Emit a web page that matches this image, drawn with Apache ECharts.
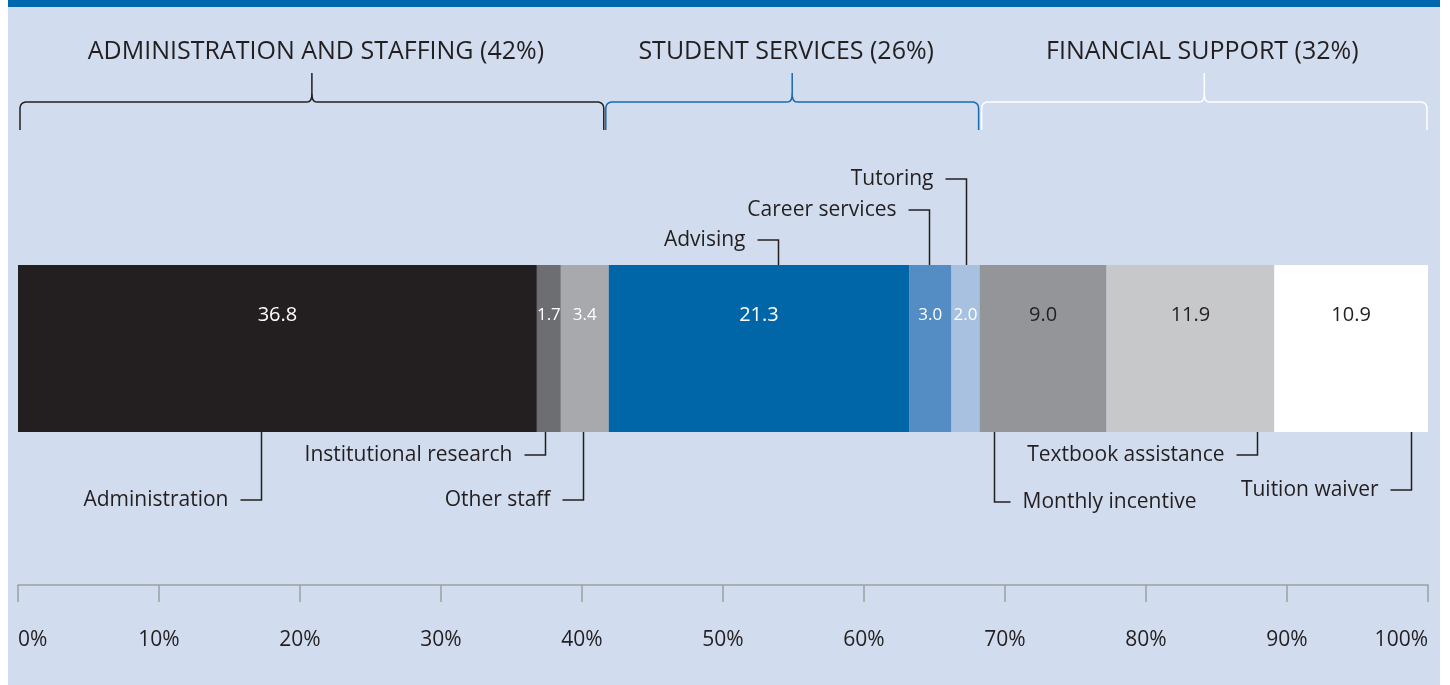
<!DOCTYPE html>
<html><head><meta charset="utf-8">
<script src="https://cdn.jsdelivr.net/npm/echarts@6/dist/echarts.min.js"></script>
<style>
html,body{margin:0;padding:0;background:#fff;}
#wrap{position:relative;width:1450px;height:685px;background:#fff;overflow:hidden;}
#bg{position:absolute;left:8px;top:0;width:1432px;height:678px;background:#d1dcee;border-top:7px solid #0068ad;}
#c{position:absolute;left:0;top:0;width:1450px;height:685px;}
</style>
</head><body>
<div id="wrap"><div id="bg"></div><div id="c"></div></div>
<script>
// ---- data ----
const categories = ['Administration','Institutional research','Other staff','Advising','Career services','Tutoring','Monthly incentive','Textbook assistance','Tuition waiver'];
const values = [36.8, 1.7, 3.4, 21.3, 3.0, 2.0, 9.0, 11.9, 10.9];
const groupNames = ['ADMINISTRATION AND STAFFING (42%)','STUDENT SERVICES (26%)','FINANCIAL SUPPORT (32%)'];
const groupMembers = [3, 3, 3];
const tickLabels = ['0%','10%','20%','30%','40%','50%','60%','70%','80%','90%','100%'];

// ---- styles ----
const FONT = '"Open Sans", "Noto Sans", sans-serif';
const INK = '#231f20';
const segColors = ['#231f20','#6d6e71','#a7a9ac','#0066a8','#548cc4','#a8c1e0','#939598','#c7c8ca','#ffffff'];
const labelColors = ['#fff','#fff','#fff','#fff','#fff','#fff',INK,INK,INK];
const bracketColors = ['#231f20','#1a6aae','#ffffff'];
const bracketStartOff = [2, -3, 2];
const bracketEndOff = [-5, -1, -1];
const headingShift = [4, -6, -2];
const GRID = {left: 18, right: 22, top: 265, height: 167};
const barTop = GRID.top, barBottom = GRID.top + GRID.height;

// annotation layout: anchor in % units along the bar, side, elbow y, text direction
const annotLayout = [
  {at: 17.2, side: 'bottom', y: 500, dir: 'left'},
  {at: 37.4, side: 'bottom', y: 455, dir: 'left'},
  {at: 40.1, side: 'bottom', y: 500, dir: 'left'},
  {at: 53.9, side: 'top',    y: 240, dir: 'left'},
  {at: 64.6, side: 'top',    y: 210, dir: 'left'},
  {at: 67.2, side: 'top',    y: 179, dir: 'left'},
  {at: 69.2, side: 'bottom', y: 502, dir: 'right'},
  {at: 87.9, side: 'bottom', y: 455, dir: 'left'},
  {at: 98.8, side: 'bottom', y: 490, dir: 'left'}
];

const series = categories.map((name, i) => ({
  name, type: 'bar', stack: 'total',
  data: [values[i]],
  barWidth: '100%',
  itemStyle: {color: segColors[i]},
  label: {
    show: true,
    position: ['50%', 50],
    align: 'center', verticalAlign: 'middle',
    color: labelColors[i],
    fontFamily: FONT, fontSize: values[i] < 5 ? 17 : 20,
    formatter: p => p.value.toFixed(1)
  },
  emphasis: {disabled: true}
}));

const chart = echarts.init(document.getElementById('c'));
chart.setOption({
  animation: false,
  backgroundColor: 'transparent',
  grid: {left: GRID.left, right: GRID.right, top: GRID.top, height: GRID.height, containLabel: false},
  xAxis: {
    type: 'value', min: 0, max: 100, interval: 10, position: 'bottom', offset: 153,
    axisLine: {show: true, lineStyle: {color: '#9d9fa2', width: 1.5}},
    axisTick: {show: true, length: 17, lineStyle: {color: '#9d9fa2', width: 1.5}},
    splitLine: {show: false},
    axisLabel: {
      margin: 45, color: INK, fontFamily: FONT, fontSize: 21,
      alignMinLabel: 'left', alignMaxLabel: 'right',
      formatter: v => tickLabels[Math.round(v / 10)]
    }
  },
  yAxis: {type: 'category', data: [''], show: false},
  series
});

// ---- annotations computed from the axis scale ----
const px = v => chart.convertToPixel({xAxisIndex: 0}, v);
const g = [];
const LS = {stroke: INK, lineWidth: 1.5, fill: null};
annotLayout.forEach((a, i) => {
  const x = Math.round(px(a.at)) + 0.5;
  const yb = a.side === 'bottom' ? barBottom : barTop;
  const hx = a.dir === 'left' ? x - 21 : x + 16;
  g.push({type: 'polyline', shape: {points: [[x, yb], [x, a.y], [hx, a.y]]}, style: LS, silent: true});
  g.push({
    type: 'text', x: a.dir === 'left' ? hx - 12 : hx + 12, y: a.y,
    style: {text: categories[i], fill: INK, font: '21px ' + FONT,
      align: a.dir === 'left' ? 'right' : 'left', verticalAlign: 'middle'}, silent: true
  });
});

// quadratic curve sampler for bracket corners
function quad(p0, c, p1, n) {
  const pts = [];
  for (let s = 1; s <= n; s++) {
    const t = s / n, u = 1 - t;
    pts.push([u*u*p0[0] + 2*u*t*c[0] + t*t*p1[0], u*u*p0[1] + 2*u*t*c[1] + t*t*p1[1]]);
  }
  return pts;
}

// group brackets
let cum = 0, idx = 0;
groupNames.forEach((gname, k) => {
  let sum = 0;
  for (let j = 0; j < groupMembers[k]; j++) sum += values[idx + j];
  idx += groupMembers[k];
  const x1 = px(cum) + bracketStartOff[k];
  const x2 = px(cum + sum) + bracketEndOff[k];
  cum += sum;
  const cx = (x1 + x2) / 2;
  const yH = 102, yE = 130, yP = 73, r = 7;
  let left = [[x1, yE], [x1, yH + r]];
  left = left.concat(quad([x1, yH + r], [x1, yH], [x1 + r, yH], 8));
  left.push([cx - 5, yH]);
  left = left.concat(quad([cx - 5, yH], [cx, yH], [cx, yH - 8], 8));
  left.push([cx, yP]);
  let right = [[cx, yH - 8]];
  right = right.concat(quad([cx, yH - 8], [cx, yH], [cx + 5, yH], 8));
  right.push([x2 - r, yH]);
  right = right.concat(quad([x2 - r, yH], [x2, yH], [x2, yH + r], 8));
  right.push([x2, yE]);
  const st = {stroke: bracketColors[k], lineWidth: 1.5, fill: null};
  g.push({type: 'polyline', shape: {points: left}, style: st, silent: true});
  g.push({type: 'polyline', shape: {points: right}, style: st, silent: true});
  g.push({type: 'text', x: cx + headingShift[k], y: 52, style: {text: gname, fill: INK, font: '25px ' + FONT, align: 'center', verticalAlign: 'middle'}, silent: true});
});

chart.setOption({graphic: g});
</script>
</body></html>
